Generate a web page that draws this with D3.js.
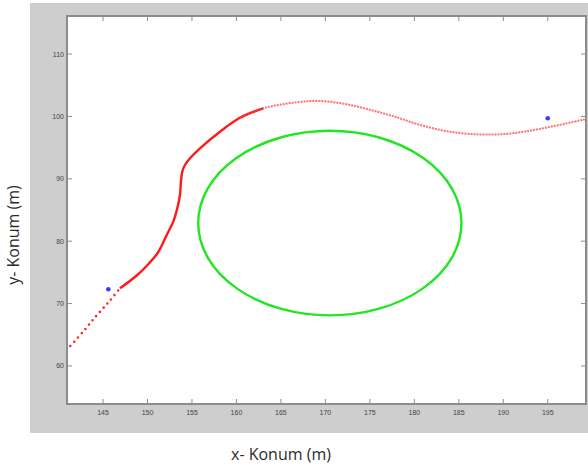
<!DOCTYPE html>
<html>
<head>
<meta charset="utf-8">
<script src="https://cdn.jsdelivr.net/npm/d3@7"></script>
<style>
  body { margin: 0; background: #fff; }
  svg { display: block; }
</style>
</head>
<body>
<div id="chart"></div>
<script>
// Data
const trackX = [140.92, 142.79, 144.29, 145.79, 146.91, 148.79, 150.06, 151.18, 152.16, 152.90, 153.35, 153.65, 153.76, 153.91, 154.21, 154.78, 155.90, 158.15, 160.39, 163.01, 166.76, 169.38, 172.38, 175.34, 177.81, 180.62, 183.99, 187.70, 190.73, 194.10, 199.16];
const trackY = [62.56, 65.55, 68.10, 70.50, 72.45, 74.50, 76.27, 78.19, 80.99, 83.13, 85.27, 87.40, 89.54, 91.14, 92.21, 93.29, 94.89, 97.55, 99.79, 101.30, 102.26, 102.47, 101.95, 100.95, 99.95, 98.65, 97.55, 97.10, 97.25, 98.00, 99.53];
const targetX = [145.6, 195.0];
const targetY = [72.3, 99.7];
const obstacleCenter = [170.5, 82.9];
const obstacleRadius = 14.8;
const xTicks = [145, 150, 155, 160, 165, 170, 175, 180, 185, 190, 195];
const yTicks = [60, 70, 80, 90, 100, 110];

/* Dimensions */
const width = 588, height = 470;
const plot = { left: 67, right: 586, top: 16, bottom: 404 };

const svg = d3.select('#chart')
  .append('svg')
  .attr('width', width)
  .attr('height', height);

// Gray figure background
svg.append('rect')
  .attr('x', 30).attr('y', 3)
  .attr('width', 558).attr('height', 430)
  .attr('fill', '#cecece');

// Plot area
svg.append('rect')
  .attr('x', plot.left).attr('y', plot.top)
  .attr('width', plot.right - plot.left).attr('height', plot.bottom - plot.top)
  .attr('fill', '#fff');

/* Scales */
const x = d3.scaleLinear().domain([140.95, 199.3]).range([plot.left, plot.right]);
const y = d3.scaleLinear().domain([53.9, 116.1]).range([plot.bottom, plot.top]);

svg.append('clipPath').attr('id', 'clip')
  .append('rect')
  .attr('x', plot.left).attr('y', plot.top)
  .attr('width', plot.right - plot.left).attr('height', plot.bottom - plot.top);

const g = svg.append('g').attr('clip-path', 'url(#clip)');

// Obstacle (green circle)
g.append('ellipse')
  .attr('cx', x(obstacleCenter[0]))
  .attr('cy', y(obstacleCenter[1]))
  .attr('rx', x(obstacleCenter[0] + obstacleRadius) - x(obstacleCenter[0]))
  .attr('ry', y(obstacleCenter[1]) - y(obstacleCenter[1] + obstacleRadius))
  .attr('fill', 'none')
  .attr('stroke', '#22e622')
  .attr('stroke-width', 2.4);

// Trajectory (red)
const track = trackX.map((d, i) => [d, trackY[i]]);
const line = d3.line()
  .x((d) => x(d[0]))
  .y((d) => y(d[1]))
  .curve(d3.curveCatmullRom.alpha(0.5));

// sparse start
g.append('path')
  .datum(track.filter((d) => d[0] <= 146.91))
  .attr('d', line)
  .attr('fill', 'none')
  .attr('stroke', '#ff2a2a')
  .attr('stroke-width', 2.6)
  .attr('stroke-linecap', 'round')
  .attr('stroke-dasharray', '0 5.6');

// dense middle
g.append('path')
  .datum(track.filter((d) => d[0] >= 146.91 && d[0] <= 163.01))
  .attr('d', line)
  .attr('fill', 'none')
  .attr('stroke', '#ff1a1a')
  .attr('stroke-width', 2.4);

// lighter tail
g.append('path')
  .datum(track.filter((d) => d[0] >= 160.39))
  .attr('d', line)
  .attr('fill', 'none')
  .attr('stroke', '#ff4040')
  .attr('stroke-opacity', 0.75)
  .attr('stroke-width', 2)
  .attr('stroke-dasharray', '2 1');

// Target points (blue)
g.selectAll('circle.target')
  .data(targetX.map((d, i) => [d, targetY[i]]))
  .join('circle')
  .attr('class', 'target')
  .attr('cx', (d) => x(d[0]))
  .attr('cy', (d) => y(d[1]))
  .attr('r', 2.3)
  .attr('fill', '#3a3aff');

/* Axes - MATLAB style box with inward ticks */
const axisColor = '#8c8c8c';
const tickLen = 5;
const axes = svg.append('g');

axes.append('rect')
  .attr('x', plot.left).attr('y', plot.top)
  .attr('width', plot.right - plot.left).attr('height', plot.bottom - plot.top)
  .attr('fill', 'none')
  .attr('stroke', axisColor)
  .attr('stroke-width', 2);

xTicks.forEach((t) => {
  axes.append('line')
    .attr('x1', x(t)).attr('x2', x(t))
    .attr('y1', plot.bottom).attr('y2', plot.bottom - tickLen)
    .attr('stroke', axisColor);
  axes.append('line')
    .attr('x1', x(t)).attr('x2', x(t))
    .attr('y1', plot.top).attr('y2', plot.top + tickLen)
    .attr('stroke', axisColor);
  axes.append('text')
    .attr('x', x(t)).attr('y', plot.bottom + 11)
    .attr('text-anchor', 'middle')
    .attr('font-family', 'Liberation Sans, Arial, sans-serif')
    .attr('font-size', 7)
    .attr('fill', '#444')
    .text(t);
});

yTicks.forEach((t) => {
  axes.append('line')
    .attr('x1', plot.left).attr('x2', plot.left + tickLen)
    .attr('y1', y(t)).attr('y2', y(t))
    .attr('stroke', axisColor);
  axes.append('line')
    .attr('x1', plot.right).attr('x2', plot.right - tickLen)
    .attr('y1', y(t)).attr('y2', y(t))
    .attr('stroke', axisColor);
  axes.append('text')
    .attr('x', plot.left - 3).attr('y', y(t) + 2.5)
    .attr('text-anchor', 'end')
    .attr('font-family', 'Liberation Sans, Arial, sans-serif')
    .attr('font-size', 7)
    .attr('fill', '#444')
    .text(t);
});

/* Axis titles */
svg.append('text')
  .attr('x', 281).attr('y', 460)
  .attr('text-anchor', 'middle')
  .attr('font-family', 'Open Sans, sans-serif')
  .attr('font-size', 16)
  .attr('fill', '#2b2b2b')
  .text('x- Konum (m)');

svg.append('text')
  .attr('transform', 'translate(19,235) rotate(-90)')
  .attr('text-anchor', 'middle')
  .attr('font-family', 'Open Sans, sans-serif')
  .attr('font-size', 16)
  .attr('fill', '#2b2b2b')
  .text('y- Konum (m)');
</script>
</body>
</html>
